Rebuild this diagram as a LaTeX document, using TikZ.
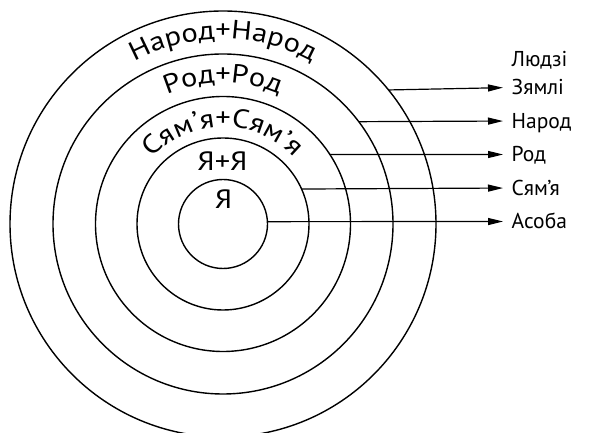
\documentclass[tikz,border=0pt]{standalone}
\usepackage{fontspec}
\setmainfont{PT Sans}
\newfontfamily\widesans[FakeStretch=1.15]{PT Sans}
\usetikzlibrary{arrows.meta,decorations.text}
\newcommand{\txtfont}{\fontsize{21.5}{25}\selectfont}
\newcommand{\bigtxtfont}{\widesans\fontsize{26.5}{30}\selectfont}
\tikzset{
  ring/.style={circle, draw, line width=1.4pt, inner sep=0pt, outer sep=0pt},
  arr/.style={line width=1.2pt, -{Triangle[length=15pt,width=7pt]}, shorten >=8.5pt},
  lab/.style={anchor=west, inner sep=0pt, font=\txtfont, text height=15pt, text depth=0pt},
  inner/.style={inner sep=0pt, font=\bigtxtfont, text height=18.5pt, text depth=0pt},
  ringtext/.style={decorate, decoration={text along path, text align=center, text={|\bigtxtfont|#1}}}
}
\begin{document}
\begin{tikzpicture}[x=1pt,y=1pt]
\useasboundingbox (0,0) rectangle (589,433);
\clip (0,0) rectangle (589,433);
\coordinate (O) at (223,209);
\node[ring, minimum size=89pt]  (c1) at (O) {};
\node[ring, minimum size=172pt] (c2) at (O) {};
\node[ring, minimum size=255pt] (c3) at (O) {};
\node[ring, minimum size=340pt] (c4) at (O) {};
\node[ring, minimum size=426pt] (c5) at (O) {};
% curved texts
\path[ringtext={Народ+Народ}] (O) ++(165:185) arc[start angle=165, end angle=15, radius=185];
\path[ringtext={Род+Род}] (O) ++(160:141) arc[start angle=160, end angle=20, radius=141];
\path[ringtext={Сям’я+Сям’я}] (O) ++(170:97) arc[start angle=170, end angle=10, radius=97];
\node[inner] (yy) at (222.5,272) {Я+Я};
\node[inner] (y1) at (223.5,234) {Я};
% labels
\node[lab] (l1) at (511.5,211.5) {Асоба};
\node[lab] (l2) at (511.5,245) {Сям’я};
\node[lab] (l3) at (511.5,278.5) {Род};
\node[lab] (l4) at (511.5,312) {Народ};
\node[lab] (l5) at (511.5,345.5) {Зямлі};
\node[lab] (l6) at (511.5,373.8) {Людзі};
% connectors
\draw[arr] (c1.{asin(2.5/44.5)}) -- (l1.west);
\draw[arr] (c2.{asin(36/86)}) -- (l2.west);
\draw[arr] (c3.{asin(69.5/127.5)}) -- (l3.west);
\draw[arr] (c4.{asin(103/170)}) -- (l4.west);
\draw[arr] (c5.{asin(136.5/213)}) -- (l5.west);
\end{tikzpicture}
\end{document}
